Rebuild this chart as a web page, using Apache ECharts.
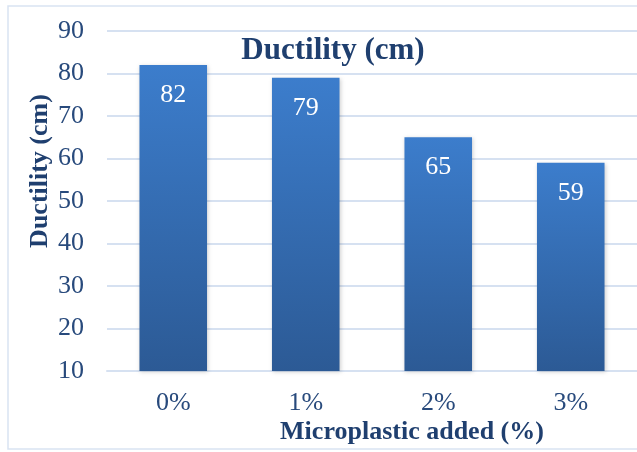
<!DOCTYPE html>
<html>
<head>
<meta charset="utf-8">
<script src="https://cdn.jsdelivr.net/npm/echarts@6/dist/echarts.min.js"></script>
<style>
  html, body { margin: 0; padding: 0; background: #fff; }
  #chart { width: 637px; height: 452px; }
</style>
</head>
<body>
<div id="chart"></div>
<script>
// Ductility test results by microplastic content
const categories = ['0%', '1%', '2%', '3%'];
const ductility = [82, 79, 65, 59];
const yTicks = { min: 10, max: 90, interval: 10 };

const serif = 'Liberation Serif';
const navy = '#284a7c';

const chart = echarts.init(document.getElementById('chart'));
chart.setOption({
  backgroundColor: '#ffffff',
  animation: false,
  title: {
    text: 'Ductility (cm)',
    left: 328,
    top: 30,
    textAlign: 'center',
    textStyle: { fontFamily: serif, fontSize: 31, fontWeight: 'bold', color: '#1f3f6f' }
  },
  grid: { left: 107, right: -5, top: 31, bottom: 81, containLabel: false },
  xAxis: {
    type: 'category',
    data: categories,
    axisLine: { show: true, lineStyle: { color: '#d6e1f1', width: 2 } },
    axisTick: { show: false },
    axisLabel: { fontFamily: serif, fontSize: 26, color: navy, margin: 19 }
  },
  yAxis: {
    type: 'value',
    min: yTicks.min,
    max: yTicks.max,
    interval: yTicks.interval,
    axisLine: { show: false },
    axisTick: { show: false },
    splitLine: { lineStyle: { color: '#d6e1f1', width: 2 } },
    axisLabel: { fontFamily: serif, fontSize: 26, color: navy, margin: 23 }
  },
  graphic: [
    {
      type: 'rect',
      shape: { x: 8, y: 6, width: 700, height: 443 },
      style: { fill: 'none', stroke: '#d9e3f2', lineWidth: 1.5 },
      z: -1
    },
    {
      type: 'text',
      x: 40, y: 171,
      rotation: Math.PI / 2,
      style: {
        text: 'Ductility (cm)',
        font: 'bold 26px "Liberation Serif"',
        fill: '#1f3f6f',
        align: 'center',
        verticalAlign: 'middle'
      }
    },
    {
      type: 'text',
      x: 412, y: 432,
      style: {
        text: 'Microplastic added (%)',
        font: 'bold 26px "Liberation Serif"',
        fill: '#1f3f6f',
        align: 'center',
        verticalAlign: 'middle'
      }
    }
  ],
  series: [{
    type: 'bar',
    data: ductility,
    barWidth: '51%',
    itemStyle: {
      color: new echarts.graphic.LinearGradient(0, 0, 0, 1, [
        { offset: 0, color: '#3c7dcc' },
        { offset: 1, color: '#2c5a95' }
      ]),
      shadowBlur: 4,
      shadowColor: 'rgba(0,0,0,0.18)',
      shadowOffsetX: 1,
      shadowOffsetY: 1
    },
    label: {
      show: true,
      position: 'insideTop',
      distance: 17,
      fontFamily: serif,
      fontSize: 26,
      color: '#ffffff'
    }
  }]
});
</script>
</body>
</html>
